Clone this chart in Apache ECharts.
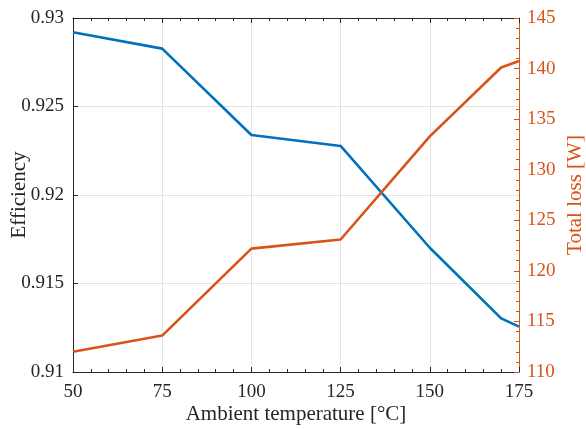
<!DOCTYPE html>
<html><head><meta charset="utf-8">
<script src="https://cdn.jsdelivr.net/npm/echarts@6/dist/echarts.min.js"></script>
<style>html,body{margin:0;padding:0;background:#fff}#c{width:586px;height:429px}</style>
</head><body><div id="c"></div>
<script>
const temps = [50, 75, 100, 125, 150, 170, 175];
const efficiency = [0.92919, 0.92827, 0.92339, 0.92277, 0.91702, 0.91303, 0.91256];
const totalLoss = [112.0, 113.6, 122.2, 123.1, 133.3, 140.1, 140.75];
const xTitle = 'Ambient temperature [°C]';
const yLeftTitle = 'Efficiency';
const yRightTitle = 'Total loss [W]';

const FONT = '"Liberation Serif", serif';
const AX = '#262626';
const BLUE = '#0072BD';
const ORANGE = '#D95319';

const chart = echarts.init(document.getElementById('c'), null, {renderer:'canvas'});
const xCommon = {
  type:'value', min:50, max:175, interval:25,
  axisTick:{show:true, inside:true, length:5, lineStyle:{color:AX, width:1}},
  minorTick:{show:true, splitNumber:5, length:3, lineStyle:{color:AX, width:1}},
  axisLine:{show:true, onZero:false, lineStyle:{color:AX, width:1}}
};
chart.setOption({
  animation:false,
  backgroundColor:'#fff',
  textStyle:{fontFamily:FONT},
  grid:{left:73, right:67, top:18, bottom:57, outerBoundsMode:'none', containLabel:false},
  xAxis:[
    Object.assign({}, xCommon, {
      position:'bottom',
      name:xTitle, nameLocation:'middle', nameGap:32, nameMoveOverlap:false,
      nameTextStyle:{fontFamily:FONT, fontSize:21, color:AX},
      axisLabel:{color:AX, margin:11, fontFamily:FONT, fontSize:19},
      splitLine:{show:true, lineStyle:{color:'#e3e3e3', width:1}}
    }),
    Object.assign({}, xCommon, {
      position:'top',
      axisLabel:{show:false},
      splitLine:{show:false}
    })
  ],
  yAxis:[
    {
      type:'value', min:0.91, max:0.93, interval:0.005, position:'left',
      name:yLeftTitle, nameLocation:'middle', nameGap:43, nameRotate:90, nameMoveOverlap:false,
      nameTextStyle:{fontFamily:FONT, fontSize:21, color:AX},
      axisLabel:{color:AX, margin:9, fontFamily:FONT, fontSize:19, formatter:v=>String(+v.toFixed(3))},
      axisTick:{show:true, inside:true, length:5, lineStyle:{color:AX}},
      axisLine:{show:true, onZero:false, lineStyle:{color:AX, width:1}},
      splitLine:{show:true, lineStyle:{color:'#e3e3e3', width:1}}
    },
    {
      type:'value', min:110, max:145, interval:5, position:'right',
      name:yRightTitle, nameLocation:'middle', nameGap:46, nameRotate:90, nameMoveOverlap:false,
      nameTextStyle:{fontFamily:FONT, fontSize:21, color:ORANGE},
      axisLabel:{color:ORANGE, margin:8, fontFamily:FONT, fontSize:19},
      axisTick:{show:true, inside:true, length:5, lineStyle:{color:ORANGE}},
      minorTick:{show:true, splitNumber:5, length:3, lineStyle:{color:ORANGE}},
      axisLine:{show:true, onZero:false, lineStyle:{color:ORANGE, width:1}},
      splitLine:{show:false}
    }
  ],
  series:[
    {type:'line', xAxisIndex:0, yAxisIndex:0, showSymbol:false, symbol:'none',
     lineStyle:{color:BLUE, width:2.6}, itemStyle:{color:BLUE},
     data:temps.map((t,i)=>[t, efficiency[i]])},
    {type:'line', xAxisIndex:0, yAxisIndex:1, showSymbol:false, symbol:'none',
     lineStyle:{color:ORANGE, width:2.6}, itemStyle:{color:ORANGE},
     data:temps.map((t,i)=>[t, totalLoss[i]])}
  ]
});
</script></body></html>
